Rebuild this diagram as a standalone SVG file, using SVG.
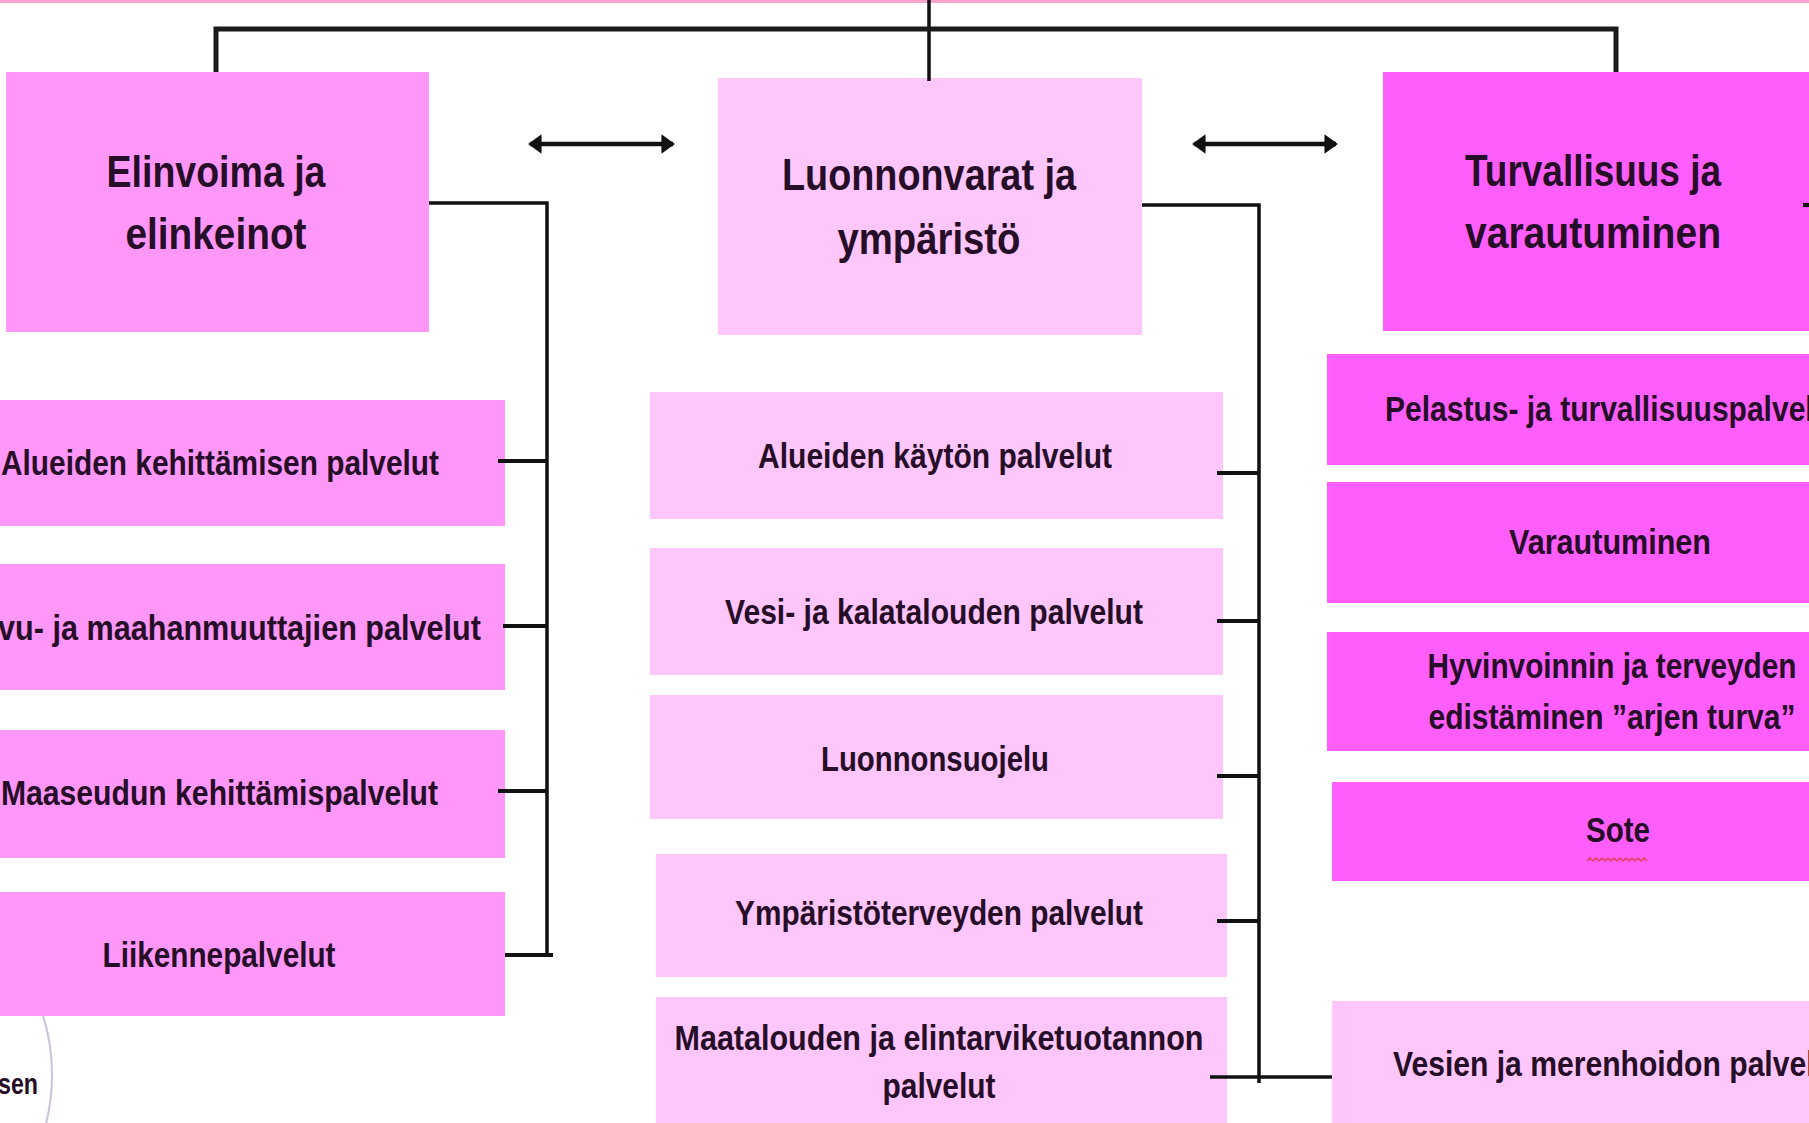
<svg xmlns="http://www.w3.org/2000/svg" width="1809" height="1123" viewBox="0 0 1809 1123">
<style>
.t{font-family:"Liberation Sans",Arial,sans-serif;font-weight:bold;fill:#260d28;}
.h{font-size:44px;text-anchor:middle;}
.s{font-size:35px;}
.m{text-anchor:middle;}
.e{text-anchor:end;}
.c1{fill:#FF97F9;}
.c2{fill:#FFC6FC;}
.c3{fill:#FF5EFC;}
.ln{stroke:#111;stroke-width:3.5;fill:none;}
.bar{stroke:#1a1a1a;stroke-width:5;fill:none;}
.tk{stroke:#111;stroke-width:4;fill:none;}
.ar{stroke:#111;stroke-width:4.5;fill:none;}
</style>
<defs>
<marker id="ah" viewBox="0 0 7 10" refX="6" refY="5" markerWidth="3" markerHeight="4.4" orient="auto-start-reverse"><path d="M0,0 L7,5 L0,10 z" fill="#111"/></marker>
</defs>
<rect width="1809" height="1123" fill="#fff"/>
<rect x="0" y="0" width="1809" height="3" fill="#F7A3CF"/>
<circle cx="-150" cy="1075" r="202" fill="none" stroke="#CDBFDD" stroke-width="2"/>
<text class="t e" x="38" y="1094" font-size="30" textLength="40" lengthAdjust="spacingAndGlyphs">sen</text>

<g id="elinvoima">
<rect class="c1" x="6" y="72" width="423" height="260"/>
<text class="t h" x="216" y="187" textLength="219" lengthAdjust="spacingAndGlyphs">Elinvoima ja</text>
<text class="t h" x="216" y="249" textLength="181" lengthAdjust="spacingAndGlyphs">elinkeinot</text>
</g>
<g id="luonnonvarat">
<rect class="c2" x="718" y="78" width="424" height="257"/>
<text class="t h" x="929" y="190" textLength="294" lengthAdjust="spacingAndGlyphs">Luonnonvarat ja</text>
<text class="t h" x="929" y="254" textLength="183" lengthAdjust="spacingAndGlyphs">ympäristö</text>
</g>
<g id="turvallisuus">
<rect class="c3" x="1383" y="72" width="440" height="259"/>
<text class="t h" x="1593" y="186" textLength="256" lengthAdjust="spacingAndGlyphs">Turvallisuus ja</text>
<text class="t h" x="1593" y="248" textLength="256" lengthAdjust="spacingAndGlyphs">varautuminen</text>
</g>

<g id="alueiden-kehittaminen">
<rect class="c1" x="-70" y="400" width="575" height="126"/>
<text class="t s" x="1" y="475" textLength="438" lengthAdjust="spacingAndGlyphs">Alueiden kehittämisen palvelut</text>
</g>
<g id="maahanmuuttajat">
<rect class="c1" x="-70" y="564" width="575" height="126"/>
<text class="t s e" x="481" y="640" textLength="483" lengthAdjust="spacingAndGlyphs">vu- ja maahanmuuttajien palvelut</text>
</g>
<g id="maaseutu">
<rect class="c1" x="-70" y="730" width="575" height="128"/>
<text class="t s" x="1" y="805" textLength="437" lengthAdjust="spacingAndGlyphs">Maaseudun kehittämispalvelut</text>
</g>
<g id="liikenne">
<rect class="c1" x="-70" y="892" width="575" height="124"/>
<text class="t s m" x="219" y="967" textLength="233" lengthAdjust="spacingAndGlyphs">Liikennepalvelut</text>
</g>

<g id="alueiden-kaytto">
<rect class="c2" x="650" y="392" width="573" height="127"/>
<text class="t s m" x="935" y="468" textLength="354" lengthAdjust="spacingAndGlyphs">Alueiden käytön palvelut</text>
</g>
<g id="vesi-kala">
<rect class="c2" x="650" y="548" width="573" height="127"/>
<text class="t s m" x="934" y="624" textLength="418" lengthAdjust="spacingAndGlyphs">Vesi- ja kalatalouden palvelut</text>
</g>
<g id="luonnonsuojelu">
<rect class="c2" x="650" y="695" width="573" height="124"/>
<text class="t s m" x="935" y="771" textLength="228" lengthAdjust="spacingAndGlyphs">Luonnonsuojelu</text>
</g>
<g id="ymparistoterveys">
<rect class="c2" x="656" y="854" width="571" height="123"/>
<text class="t s m" x="939" y="925" textLength="408" lengthAdjust="spacingAndGlyphs">Ympäristöterveyden palvelut</text>
</g>
<g id="maatalous">
<rect class="c2" x="656" y="997" width="571" height="130"/>
<text class="t s m" x="939" y="1050" textLength="529" lengthAdjust="spacingAndGlyphs">Maatalouden ja elintarviketuotannon</text>
<text class="t s m" x="939" y="1098" textLength="113" lengthAdjust="spacingAndGlyphs">palvelut</text>
</g>

<g id="pelastus">
<rect class="c3" x="1327" y="354" width="490" height="111"/>
<text class="t s" x="1385" y="421" textLength="457" lengthAdjust="spacingAndGlyphs">Pelastus- ja turvallisuuspalvelut</text>
</g>
<g id="varautuminen">
<rect class="c3" x="1327" y="482" width="490" height="121"/>
<text class="t s m" x="1610" y="554" textLength="202" lengthAdjust="spacingAndGlyphs">Varautuminen</text>
</g>
<g id="hyvinvointi">
<rect class="c3" x="1327" y="632" width="490" height="119"/>
<text class="t s m" x="1612" y="678" textLength="369" lengthAdjust="spacingAndGlyphs">Hyvinvoinnin ja terveyden</text>
<text class="t s m" x="1612" y="729" textLength="367" lengthAdjust="spacingAndGlyphs">edistäminen ”arjen turva”</text>
</g>
<g id="sote">
<rect class="c3" x="1332" y="782" width="485" height="99"/>
<text class="t s m" x="1618" y="842" textLength="64" lengthAdjust="spacingAndGlyphs">Sote</text>
<path d="M1587,861 l3,-3 l3,3 l3,-3 l3,3 l3,-3 l3,3 l3,-3 l3,3 l3,-3 l3,3 l3,-3 l3,3 l3,-3 l3,3 l3,-3 l3,3 l3,-3 l3,3 l3,-3 l3,3" fill="none" stroke="#E8405E" stroke-width="1.5"/>
</g>
<g id="vesien-merenhoito">
<rect class="c2" x="1332" y="1001" width="485" height="126"/>
<text class="t s" x="1393" y="1076" textLength="450" lengthAdjust="spacingAndGlyphs">Vesien ja merenhoidon palvelut</text>
</g>

<g id="connectors">
<path class="ln" d="M929,0 V81"/>
<path class="bar" d="M216,72 V29 H1616 V72"/>
<line class="ar" x1="530" y1="144" x2="673" y2="144" marker-start="url(#ah)" marker-end="url(#ah)"/>
<line class="ar" x1="1194" y1="144" x2="1336" y2="144" marker-start="url(#ah)" marker-end="url(#ah)"/>
<path class="ln" d="M429,203 H547 V955"/>
<path class="tk" d="M498,461 H547 M503,626 H547 M498,791 H547 M505,955 H553"/>
<path class="ln" d="M1142,205 H1259 V1083"/>
<path class="tk" d="M1217,473 H1259 M1217,621 H1259 M1217,776 H1259 M1217,921 H1259"/>
<path class="ln" d="M1210,1077 H1332"/>
<path class="tk" d="M1803,205 H1809"/>
</g>
</svg>
